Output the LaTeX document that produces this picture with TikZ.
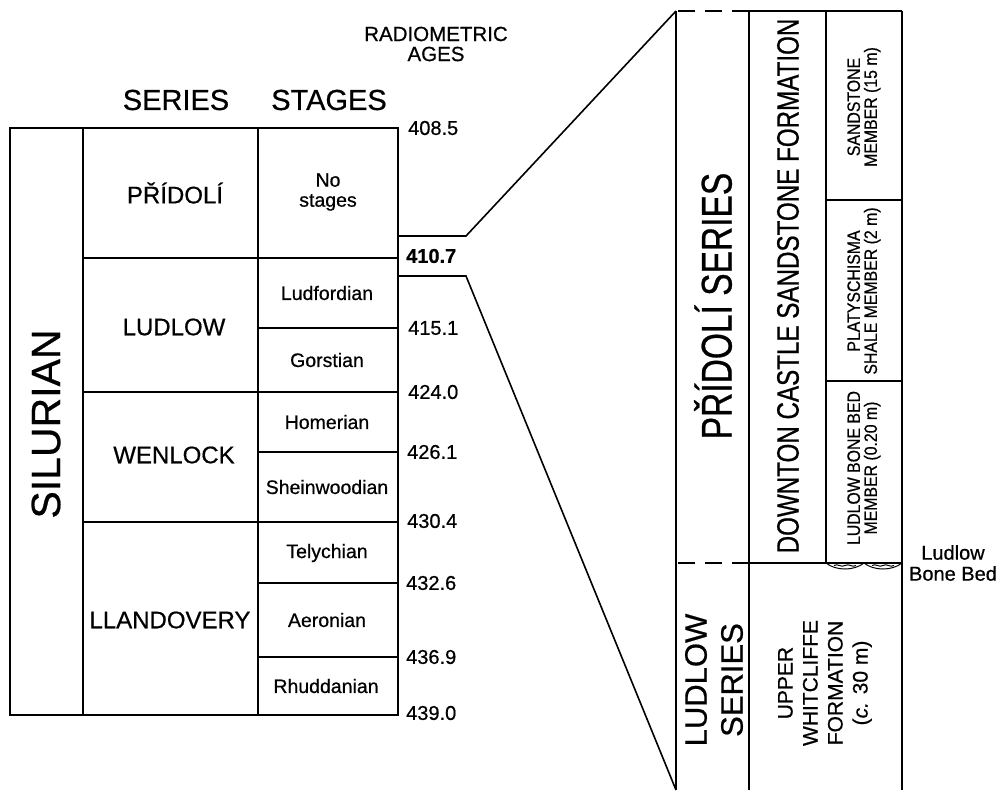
\documentclass[tikz,border=0pt]{standalone}
\usepackage{fontspec}
\setmainfont{Liberation Sans}[FakeBold=0.6]
\newfontfamily\narrowfont[FakeStretch=0.78,FakeBold=0.6]{Liberation Sans}
\newfontfamily\memberfont[FakeStretch=0.88,FakeBold=0.6]{Liberation Sans}
\tikzset{
    tableline/.style={line width=2.4pt},
    columnline/.style={line width=1.7pt},
    dashline/.style={line width=1.7pt,dash pattern=on 17pt off 10pt},
    zoomline/.style={line width=1.6pt},
    bedline/.style={line width=1pt},
    headlabel/.style={align=center,font=\fontsize{29}{29}\selectfont},
    ageshead/.style={align=center,font=\fontsize{20.5}{20}\selectfont},
    serieslabel/.style={font=\fontsize{24}{24}\selectfont},
    stagelabel/.style={align=center,font=\fontsize{19.5}{20}\selectfont},
    agelabel/.style={anchor=west,inner sep=0pt,font=\fontsize{20}{20}\selectfont},
    systemlabel/.style={rotate=90,font=\fontsize{41}{41}\selectfont},
    bigcolumn/.style={rotate=90,align=center,font=\narrowfont\fontsize{43}{43}\selectfont},
    formcolumn/.style={rotate=90,align=center,font=\narrowfont\fontsize{31}{31}\selectfont},
    membercolumn/.style={rotate=90,align=center,font=\memberfont\fontsize{18}{17}\selectfont},
    sidelabel/.style={align=center,font=\fontsize{20}{21}\selectfont}
}

\begin{document}
\begin{tikzpicture}[x=1pt,y=-1pt]
    \useasboundingbox (0,0) rectangle (1001,792);

    % headings
    \node[ageshead] (ageshdr) at (436,44) {RADIOMETRIC\\AGES};
    \node[headlabel] (serieshdr) at (176,100) {SERIES};
    \node[headlabel] (stageshdr) at (329,100) {STAGES};

    % left table
    \draw[tableline] (10,128) rectangle (398,715);
    \draw[tableline] (83,128) -- (83,715);
    \draw[tableline] (258,128) -- (258,715);
    \draw[tableline] (83,258) -- (398,258);
    \draw[tableline] (83,392) -- (398,392);
    \draw[tableline] (83,522) -- (398,522);
    \draw[tableline] (258,328) -- (398,328);
    \draw[tableline] (258,452) -- (398,452);
    \draw[tableline] (258,583) -- (398,583);
    \draw[tableline] (258,657) -- (398,657);

    \node[systemlabel] (silurian) at (46,424) {SILURIAN};
    \node[serieslabel] (pridoli) at (175,193) {PŘÍDOLÍ};
    \node[serieslabel] (ludlow) at (174,327) {LUDLOW};
    \node[serieslabel] (wenlock) at (174,455) {WENLOCK};
    \node[serieslabel] (llandovery) at (170,620) {LLANDOVERY};

    \node[stagelabel] (nostages) at (328,192) {No\\stages};
    \node[stagelabel] (ludfordian) at (327,293) {Ludfordian};
    \node[stagelabel] (gorstian) at (327,360) {Gorstian};
    \node[stagelabel] (homerian) at (327,422) {Homerian};
    \node[stagelabel] (sheinwoodian) at (327,487) {Sheinwoodian};
    \node[stagelabel] (telychian) at (327,553) {Telychian};
    \node[stagelabel] (aeronian) at (327,620) {Aeronian};
    \node[stagelabel] (rhuddanian) at (326,686) {Rhuddanian};

    % ages
    \node[agelabel] (age1) at (408,128) {408.5};
    \node[agelabel,font=\fontsize{20}{20}\selectfont\bfseries] (age2) at (406,256) {410.7};
    \node[agelabel] (age3) at (408,328) {415.1};
    \node[agelabel] (age4) at (408,392) {424.0};
    \node[agelabel] (age5) at (407,452) {426.1};
    \node[agelabel] (age6) at (407,521) {430.4};
    \node[agelabel] (age7) at (406,583) {432.6};
    \node[agelabel] (age8) at (406,657) {436.9};
    \node[agelabel] (age9) at (406,713) {439.0};

    % right column
    \coordinate (coltl) at (676,11);
    \coordinate (colbl) at (676,790);
    \draw[dashline] (749,11) -- (coltl);
    \draw[columnline] (749,11) -- (902,11);
    \draw[columnline] (coltl) -- (colbl);
    \draw[columnline] (749,11) -- (749,790);
    \draw[columnline] (826,11) -- (826,563);
    \draw[columnline] (902,11) -- (902,790);
    \draw[columnline] (826,200) -- (902,200);
    \draw[columnline] (826,381) -- (902,381);
    \draw[dashline] (749,563) -- (676,563);
    \draw[columnline] (749,563) -- (902,563);

    % bone bed
    \draw[bedline] (826,563) .. controls (836,571) and (854,571) .. (864,563)
        .. controls (874,571) and (892,571) .. (902,563);
    \draw[bedline] (834,565.5) .. controls (838,563) and (841,568) .. (845,565.5)
        .. controls (849,563) and (852,568) .. (856,565.5);
    \draw[bedline] (872,565.5) .. controls (876,563) and (879,568) .. (883,565.5)
        .. controls (887,563) and (890,568) .. (894,565.5);

    \node[bigcolumn] (pridoliseries) at (713,306) {PŘÍDOLÍ SERIES};
    \node[formcolumn] (downton) at (788,286) {DOWNTON CASTLE SANDSTONE FORMATION};
    \node[membercolumn] (sandstone) at (864,107) {SANDSTONE\\MEMBER (15 m)};
    \node[membercolumn] (platyschisma) at (864,291) {PLATYSCHISMA\\SHALE MEMBER (2 m)};
    \node[membercolumn] (bonebed) at (864,468) {LUDLOW BONE BED\\MEMBER (0.20 m)};
    \node[rotate=90,align=center,font=\fontsize{31}{36}\selectfont] (ludlowseries) at (714,680) {LUDLOW\\SERIES};
    \node[rotate=90,align=center,font=\fontsize{21}{25}\selectfont] (whitcliffe) at (825,683)
        {UPPER\\WHITCLIFFE\\FORMATION\\(\textit{c.} 30 m)};
    \node[sidelabel] (bonebedlabel) at (953,563) {Ludlow\\Bone Bed};

    % zoom lines
    \coordinate (upa) at (398,236);
    \coordinate (upb) at (466,236);
    \coordinate (lowa) at (398,276);
    \coordinate (lowb) at (466,276);
    \draw[zoomline] (upa) -- (upb) -- (coltl);
    \draw[zoomline] (lowa) -- (lowb) -- (colbl);
\end{tikzpicture}
\end{document}
